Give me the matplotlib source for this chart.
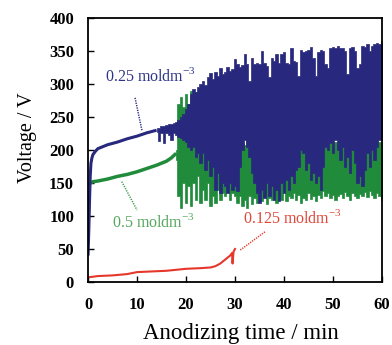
import matplotlib
matplotlib.use("Agg")
import matplotlib.pyplot as plt
import numpy as np

# ---------------- data ----------------
# 0.25 mol dm-3, smooth early part
blue_t_early = [0, 0.15, 0.3, 0.45, 0.6, 0.8, 1.0, 1.5, 2, 3, 4, 6, 8, 10, 12, 14]
blue_v_early = [40, 75, 120, 160, 180, 188, 193, 198, 202, 205, 208, 212, 217, 221, 226, 230]

# 0.25 mol dm-3, oscillating part: upper / lower envelope
blue_t_osc = [14, 14.5, 15, 15.5, 16, 16.5, 17, 17.5,
              18, 18.5, 19, 19.5, 20, 20.5, 21, 21.5, 22, 22.5, 23, 23.5, 24, 24.5, 25, 25.5,
              26, 26.5, 27, 27.5, 28, 28.5, 29, 29.5, 30, 30.5, 31, 31.5, 32, 32.5, 33, 33.5,
              34, 34.5, 35, 35.5, 36, 36.5, 37, 37.5, 38, 38.5, 39, 39.5, 40, 40.5, 41, 41.5,
              42, 42.5, 43, 43.5, 44, 44.5, 45, 45.5, 46, 46.5, 47, 47.5, 48, 48.5, 49, 49.5,
              50, 50.5, 51, 51.5, 52, 52.5, 53, 53.5, 54, 54.5, 55, 55.5, 56, 56.5, 57, 57.5,
              58, 58.5, 59, 59.5, 60]
blue_top = [233, 234, 236, 236, 238, 239, 240, 241,
            242, 245, 250, 255, 262, 270, 285, 292, 288, 296, 300, 305, 298, 310, 316, 308,
            318, 312, 324, 315, 318, 326, 320, 322, 338, 330, 326, 329, 346, 330, 305, 340,
            330, 332, 330, 350, 332, 328, 310, 340, 335, 345, 332, 345, 348, 332, 330, 355,
            335, 333, 312, 352, 348, 350, 352, 356, 340, 312, 348, 352, 350, 330, 325, 355,
            356, 354, 358, 354, 355, 350, 315, 354, 356, 350, 325, 330, 358, 356, 360, 350,
            358, 360, 362, 360, 365]
blue_low = [227, 214, 226, 211, 226, 222, 215, 226,
            222, 220, 218, 215, 212, 205, 200, 205, 190, 195, 180, 195, 170, 185, 160, 175,
            140, 165, 135, 150, 145, 135, 150, 140, 145, 138, 175, 200, 215, 205, 190, 165,
            150, 135, 120, 140, 128, 150, 130, 145, 125, 140, 122, 150, 135, 155, 140, 160,
            150, 170, 175, 200, 195, 170, 180, 155, 165, 150, 160, 140, 175, 205, 200, 210,
            195, 215, 200, 185, 205, 175, 190, 165, 200, 180, 150, 160, 145, 170, 195, 175,
            200, 185, 205, 215, 215]

# 0.5 mol dm-3, smooth early part
green_t_early = [0, 1, 2, 4, 6, 8, 10, 12, 14, 16, 17, 18]
green_v_early = [148, 152, 153, 156, 160, 163, 167, 172, 177, 183, 188, 195]

# 0.5 mol dm-3, oscillating part: upper / lower envelope
green_t_osc = [18, 18.5, 19, 19.5, 20, 20.5, 21, 21.5, 22, 22.5, 23, 23.5, 24, 24.5, 25, 25.5,
               26, 26.5, 27, 27.5, 28, 28.5, 29, 29.5, 30, 30.5, 31, 31.5, 32, 32.5, 33, 33.5,
               34, 34.5, 35, 35.5, 36, 36.5, 37, 37.5, 38, 38.5, 39, 39.5, 40, 40.5, 41, 41.5,
               42, 42.5, 43, 43.5, 44, 44.5, 45, 45.5, 46, 46.5, 47, 47.5, 48, 48.5, 49, 49.5,
               50, 50.5, 51, 51.5, 52, 52.5, 53, 53.5, 54, 54.5, 55, 55.5, 56, 56.5, 57, 57.5,
               58, 58.5, 59, 59.5, 60]
green_top = [200, 270, 280, 265, 285, 270, 290, 275, 288, 280, 290, 285, 295, 280, 285, 270,
             250, 240, 230, 225, 220, 215, 210, 205, 200, 198, 205, 210, 208, 215, 200, 195,
             190, 185, 180, 190, 185, 195, 190, 200, 195, 205, 190, 200, 195, 205, 200, 210,
             205, 200, 210, 205, 215, 200, 205, 198, 210, 200, 205, 195, 212, 208, 215, 210,
             205, 212, 208, 200, 205, 210, 200, 195, 208, 205, 200, 210, 212, 205, 215, 208,
             210, 205, 215, 212, 210]
green_low = [185, 130, 112, 150, 120, 145, 115, 150, 125, 160, 120, 140, 125, 150, 115, 130,
             120, 140, 125, 135, 130, 140, 125, 135, 130, 120, 130, 115, 125, 112, 130, 118,
             128, 120, 135, 122, 130, 118, 128, 124, 135, 120, 130, 125, 138, 122, 130, 128,
             135, 125, 132, 120, 128, 124, 135, 126, 130, 122, 132, 128, 138, 130, 135, 128,
             132, 125, 130, 134, 128, 136, 130, 125, 135, 130, 128, 134, 130, 136, 129, 138,
             132, 128, 135, 130, 125]

# 0.125 mol dm-3
red_t = [0, 2, 5, 8, 10, 13, 16, 20, 23, 25, 26, 27, 28, 29, 29.4, 29.5, 29.7, 30]
red_v = [7, 9, 10, 12, 15, 16, 17, 20, 21, 22, 24, 28, 34, 40, 44, 28, 46, 50]

labels = ["0.25 moldm$^{-3}$", "0.5 moldm$^{-3}$", "0.125 moldm$^{-3}$"]
x_ticks = [0, 10, 20, 30, 40, 50, 60]
y_ticks = [0, 50, 100, 150, 200, 250, 300, 350, 400]

# ---------------- plot ----------------
plt.rcParams['font.family'] = ['Liberation Serif', 'DejaVu Serif']
plt.rcParams['mathtext.fontset'] = 'custom'
plt.rcParams['mathtext.rm'] = 'Liberation Serif'

BLUE = '#28287e'
GREEN = '#1f8b3b'
RED = '#e5372a'

fig = plt.figure(figsize=(3.92, 3.45), dpi=100)
ax = fig.add_axes([0.2245, 0.1826, 0.75, 0.7652])

# green (under blue)
ax.plot(green_t_early, green_v_early, color=GREEN, lw=2.5, solid_capstyle='butt')
ax.fill_between(green_t_osc, green_low, green_top, step='mid', color=GREEN, lw=0.5, edgecolor=GREEN)

# blue
ax.plot(blue_t_early, blue_v_early, color=BLUE, lw=2.2, solid_capstyle='butt')
ax.fill_between(blue_t_osc, blue_low, blue_top, step='mid', color=BLUE, lw=0.5, edgecolor=BLUE)

# red
ax.plot(red_t, red_v, color=RED, lw=1.5)

# annotations
dots = (0, (0.8, 0.8))
ax.plot([9.6, 11.0], [279, 230], color=BLUE, lw=1.1, ls=dots)
ax.plot([6.9, 10.0], [152, 109], color='#3c9a4c', lw=1.1, ls=dots)
ax.plot([36.1, 31.0], [76, 48], color=RED, lw=1.1, ls=dots)
ax.text(3.4, 312, labels[0], color='#2e3588', fontsize=11.5, va='center', ha='left')
ax.text(4.9, 91, labels[1], color='#56a85e', fontsize=11.5, va='center', ha='left')
ax.text(31.6, 97, labels[2], color='#e0483a', fontsize=11.5, va='center', ha='left')

ax.set_xlim(0, 60)
ax.set_ylim(0, 400)
ax.set_xticks(x_ticks)
ax.set_yticks(y_ticks)
ax.tick_params(direction='in', length=4, width=1, labelsize=12)
ax.tick_params(axis='x', pad=11)
ax.tick_params(axis='y', pad=10)
for lab in ax.get_xticklabels() + ax.get_yticklabels():
    lab.set_fontweight('bold')
for s in ax.spines.values():
    s.set_linewidth(1.3)

ax.set_xlabel("Anodizing time / min", fontsize=16.5)
ax.xaxis.set_label_coords(0.52, -0.155)
ax.set_ylabel("Voltage / V", fontsize=14.5)
ax.yaxis.set_label_coords(-0.175, 0.545)

fig.savefig("out.png", dpi=100)
